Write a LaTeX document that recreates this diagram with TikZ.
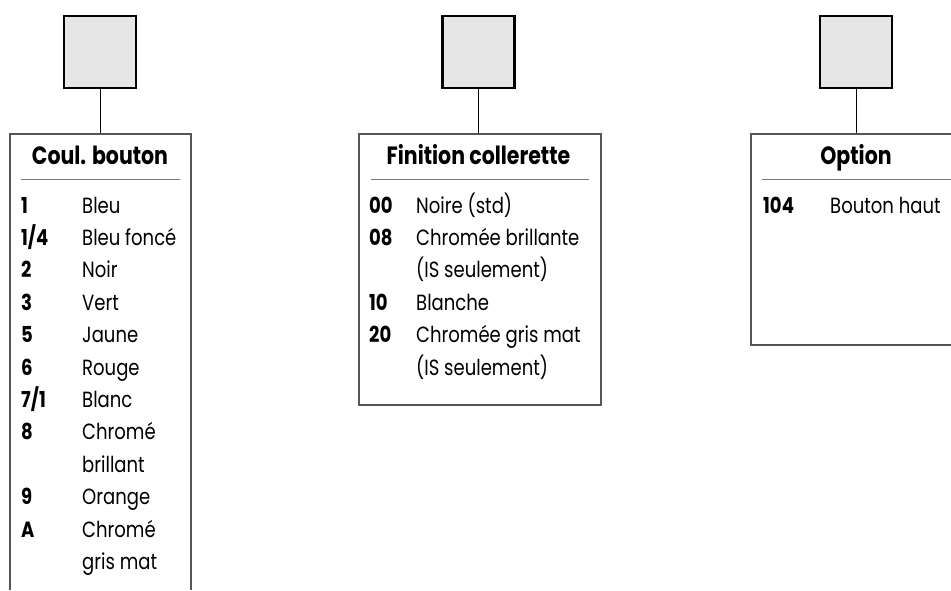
\documentclass[tikz,border=0pt]{standalone}
\usepackage{fontspec}
\setmainfont{Poppins}[FakeStretch=0.82]
\begin{document}
\begin{tikzpicture}[x=1pt,y=-1pt,
  sq/.style={draw=black,line width=2.4pt,fill=sqgray,minimum size=72pt,inner sep=0pt},
  conn/.style={draw=black,line width=1pt},
  frame/.style={draw=framegray,line width=1.3pt},
  sep/.style={draw=sepgray,line width=1pt},
  hdr/.style={anchor=base,inner sep=0pt,font=\fontsize{25}{25}\selectfont\bfseries},
  num/.style={anchor=base west,inner sep=0pt,font=\fontsize{22}{22}\selectfont\bfseries},
  txt/.style={anchor=base west,inner sep=0pt,font=\fontsize{22}{22}\selectfont}]
\definecolor{sqgray}{HTML}{E6E6E6}
\definecolor{framegray}{HTML}{555555}
\definecolor{sepgray}{HTML}{777777}
\useasboundingbox (0,0) rectangle (951,590);

% ---- Box 1 : Coul. bouton
\node[sq] (s1) at (100,52) {};
\coordinate (b1) at (100,134);
\draw[conn] (s1.south) -- (b1);
\draw[frame] (10,590) -- (10,134) -- (191,134) -- (191,590);
\node[hdr] (h1) at (100,164) {Coul. bouton};
\draw[sep] (21,179) -- (180,179);
\foreach \n/\t [count=\i from 0] in {1/Bleu,{1/4}/Bleu foncé,2/Noir,3/Vert,5/Jaune,6/Rouge,{7/1}/Blanc,8/Chromé,/brillant,9/Orange,A/Chromé,/gris mat}{
  \node[num] (n1\i) at (21,213+32.4*\i) {\n};
  \node[txt] (t1\i) at (82,213+32.4*\i) {\t};
}

% ---- Box 2 : Finition collerette
\node[sq] (s2) at (478.5,52) {};
\coordinate (b2) at (478.5,134);
\draw[conn] (s2.south) -- (b2);
\draw[frame] (359,134) rectangle (601,405);
\node[hdr] (h2) at (478.5,164) {Finition collerette};
\draw[sep] (371,179) -- (589,179);
\foreach \n/\t [count=\i from 0] in {00/Noire (std),08/Chromée brillante,/(IS seulement),10/Blanche,20/Chromée gris mat,/(IS seulement)}{
  \node[num] (n2\i) at (369,213+32.4*\i) {\n};
  \node[txt] (t2\i) at (416,213+32.4*\i) {\t};
}

% ---- Box 3 : Option
\node[sq] (s3) at (856,52) {};
\coordinate (b3) at (856,134);
\draw[conn] (s3.south) -- (b3);
\draw[frame] (951,134) -- (751,134) -- (751,345) -- (951,345);
\node[hdr] (h3) at (856,164) {Option};
\draw[sep] (762,179) -- (951,179);
\node[num] (n30) at (763,213) {104};
\node[txt] (t30) at (830,213) {Bouton haut};
\end{tikzpicture}
\end{document}
